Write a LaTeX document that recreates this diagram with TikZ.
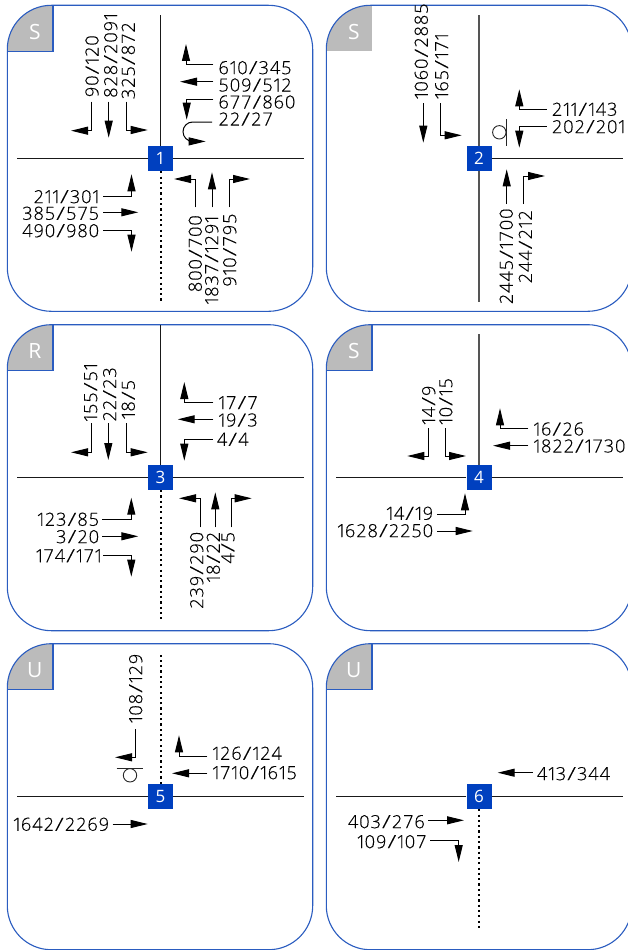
\documentclass[tikz,border=0pt]{standalone}
\usepackage{fontspec}
\usetikzlibrary{arrows.meta}
\newfontfamily\lblfont[LetterSpace=5,Numbers=Proportional,FakeBold=0.25]{Open Sans Light}
\newfontfamily\headfont{Open Sans}
\definecolor{frameblue}{HTML}{2A5CC0}
\definecolor{cornergray}{HTML}{BBBBBB}
\definecolor{squareblue}{HTML}{0040BF}
\definecolor{roadgray}{HTML}{555555}
\newcommand{\sla}{\makebox[10.9pt][c]{\scalebox{1.4}[1]{/}}}
\def\fmtx#1/#2\relax{#1\sla{}#2}
\newcommand{\fmt}[1]{\fmtx#1\relax}
\tikzset{
  lbl/.style={font=\lblfont\fontsize{18.2pt}{18.2pt}\selectfont,inner ysep=0pt,text=black},
  flow/.style={line width=1pt,black,-{Triangle[length=17pt,width=8pt]}},
  road/.style={line width=1.1pt,black!90},
  graveroad/.style={line width=1.4pt,roadgray},
  dotroad/.style={line width=2pt,black,dash pattern=on 2.2pt off 3.1pt},
  sq/.style={fill=squareblue,text=white,minimum size=25pt,inner sep=0pt,font=\headfont\fontsize{17pt}{17pt}\selectfont},
  frame/.style={draw=frameblue,line width=1.1pt,rounded corners=44pt},
  heading/.style={text=white,inner sep=0pt,font=\headfont\fontsize{21pt}{21pt}\selectfont},
  stopmark/.style={line width=0.9pt,black!85},
}
% horizontal label: gap, id, anchor, x, y of text, y of line, text, end, path operation
\newcommand{\Lh}[9][4]{%
  \node[lbl,inner xsep=#1pt,anchor=#3] (#2) at (#4,#5) {\fmt{#7}};
  \coordinate (#2e) at (#8);
  \draw[flow] (#2.#3 |- 0,#6) #9 (#2e);}
% vertical label: gap, id, anchor, x of text, y, x of line, text, end, path operation
\newcommand{\Lv}[9][4]{%
  \node[lbl,inner xsep=#1pt,anchor=#3,rotate=90] (#2) at (#4,#5) {\fmt{#7}};
  \coordinate (#2e) at (#8);
  \draw[flow] (#6,0 |- #2.#3) #9 (#2e);}
% panel: id, x, y, letter, width of drawn corner edge
\newcommand{\panel}[5]{%
  \begin{scope}
    \clip[rounded corners=44pt] (#2,#3) rectangle ++(305.4,306);
    \fill[cornergray] (#2,#3) rectangle ++(45.7,46);
    \ifnum#5=1 \draw[frameblue,line width=1.1pt] (#2+45.7,#3) -- ++(0,46) -- ++(-45.7,0);\fi
  \end{scope}
  \draw[frame] (#2,#3) rectangle ++(305.4,306);
  \node[heading] (h#1) at (#2+27.5,#3+26.5) {#4};}
\begin{document}
\begin{tikzpicture}[x=1pt,y=-1pt]
\useasboundingbox (0,0) rectangle (628,950);
\fill[white] (0,0) rectangle (628,950);
\panel{1}{7.3}{5.3}{S}{1}
\panel{2}{326.3}{5.3}{S}{0}
\panel{3}{7.3}{324.7}{R}{1}
\panel{4}{326.3}{324.7}{S}{1}
\panel{5}{7.3}{643.7}{U}{1}
\panel{6}{326.3}{643.7}{U}{1}
\node[sq] (sq1) at (160.5,158.5) {1};
\node[sq] (sq2) at (479,158.5) {2};
\node[sq] (sq3) at (160.5,477.3) {3};
\node[sq] (sq4) at (479,477.3) {4};
\node[sq] (sq5) at (160.5,796.5) {5};
\node[sq] (sq6) at (479,796.5) {6};
% roads
\coordinate (r1w) at (16.5,158.5); \coordinate (r1e) at (303.5,158.5);
\coordinate (r1n) at (160.5,15);   \coordinate (r1s) at (160.5,302);
\draw[road] (sq1.west) -- (r1w); \draw[road] (sq1.east) -- (r1e);
\draw[road] (sq1.north) -- (r1n); \draw[dotroad] (sq1.south) -- (r1s);
\coordinate (r2e) at (623,158.5); \coordinate (r2n) at (479,15); \coordinate (r2s) at (479,302);
\draw[road] (sq2.east) -- (r2e);
\draw[graveroad] (sq2.north) -- (r2n); \draw[graveroad] (sq2.south) -- (r2s);
\coordinate (r3w) at (16.5,477.3); \coordinate (r3e) at (303.5,477.3);
\coordinate (r3n) at (160.5,325);  \coordinate (r3s) at (160.5,620);
\draw[road] (sq3.west) -- (r3w); \draw[road] (sq3.east) -- (r3e);
\draw[road] (sq3.north) -- (r3n); \draw[dotroad] (sq3.south) -- (r3s);
\coordinate (r4w) at (335.5,477.3); \coordinate (r4e) at (623,477.3); \coordinate (r4n) at (479,334);
\draw[road] (sq4.west) -- (r4w); \draw[road] (sq4.east) -- (r4e);
\draw[graveroad] (sq4.north) -- (r4n);
\coordinate (r5w) at (16.5,796.5); \coordinate (r5e) at (303.5,796.5); \coordinate (r5n) at (160.5,655);
\draw[road] (sq5.west) -- (r5w); \draw[road] (sq5.east) -- (r5e);
\draw[dotroad] (sq5.north) -- (r5n);
\coordinate (r6w) at (335.5,796.5); \coordinate (r6e) at (623,796.5); \coordinate (r6s) at (479,928);
\draw[road] (sq6.west) -- (r6w); \draw[road] (sq6.east) -- (r6e);
\draw[dotroad] (sq6.south) -- (r6s);
% stop marks
\draw[stopmark] (506,119) -- (506,145.7);
\draw[stopmark] (499.3,132.3) circle[radius=6.7pt];
\draw[stopmark] (116.7,768.7) -- (143.3,768.7);
\draw[stopmark] (130,775.3) circle[radius=6.7pt];
% panel 1
\Lv[4.4]{p1a}{west}{92}{101.7}{91.7}{90/120}{71,130.7}{|-}
\Lv[3.7]{p1b}{west}{110.7}{101.7}{108.7}{828/2091}{108.7,137.7}{--}
\Lv[2.4]{p1c}{west}{128.3}{101.7}{126.3}{325/872}{147.7,130}{|-}
\Lh[5]{p1d}{west}{213.3}{67.7}{65}{610/345}{186,44}{-|}
\Lh[5]{p1e}{west}{213.3}{85}{81.7}{509/512}{180,81.7}{--}
\Lh[5]{p1f}{west}{213.3}{102}{99.3}{677/860}{186.7,119.7}{-|}
\Lh[6.3]{p1g}{west}{212}{119}{122}{22/27}{205.7,141.4}{-- (192.7,122) arc[start angle=90,end angle=270,radius=9.7pt] --}
\Lh[4]{p1h}{east}{103.3}{196.7}{196}{211/301}{131.5,174.3}{-|}
\Lh[4]{p1i}{east}{103.3}{213.3}{212.3}{385/575}{138.3,212.3}{--}
\Lh[4]{p1j}{east}{103.3}{230.7}{230}{490/980}{131.5,251.7}{-|}
\Lv[7.7]{p1k}{east}{195.3}{207.3}{195}{800/700}{174,179}{|-}
\Lv[8.7]{p1l}{east}{211.7}{207.3}{212}{1837/1291}{212,172.3}{--}
\Lv[6]{p1m}{east}{229.7}{207.3}{229.3}{910/795}{250,179}{|-}
% panel 2
\Lv[4]{p2a}{west}{421.3}{103.3}{423.3}{1060/2885}{423.3,142.7}{--}
\Lv[4]{p2b}{west}{441.7}{103.3}{440.3}{165/171}{461.7,135.3}{|-}
\Lh[5]{p2c}{west}{546.7}{109.3}{109.3}{211/143}{519.3,89.3}{-|}
\Lh[5]{p2d}{west}{546.7}{126.7}{126.7}{202/201}{519.3,147.7}{-|}
\Lv[4.3]{p2e}{east}{506.3}{204}{506.7}{2445/1700}{506.7,169.3}{--}
\Lv[6]{p2f}{east}{525.3}{204}{523.7}{244/212}{545,176}{|-}
% panel 3
\Lv[1.6]{p3a}{west}{90.7}{423.3}{91.7}{155/51}{71,452.3}{|-}
\Lv[1.6]{p3b}{west}{109.7}{423.3}{108.3}{22/23}{108.3,460}{--}
\Lv[4]{p3c}{west}{128.3}{423.3}{126.3}{18/5}{147.7,452.3}{|-}
\Lh[5]{p3d}{west}{213.3}{402.7}{402.3}{17/7}{184.3,382}{-|}
\Lh[5]{p3e}{west}{213.3}{420}{419.3}{19/3}{177.7,419.3}{--}
\Lh[4]{p3f}{west}{212.7}{439.3}{439.3}{4/4}{184.3,460.7}{-|}
\Lh[3]{p3g}{east}{102.3}{519.3}{519}{123/85}{131.3,497.7}{-|}
\Lh[3]{p3h}{east}{102.3}{536.7}{536.3}{3/20}{138.3,536.3}{--}
\Lh[1.6]{p3i}{east}{103.3}{555.7}{555.7}{174/171}{131.3,576.7}{-|}
\Lv[4.4]{p3j}{east}{196.7}{527.3}{200}{239/290}{179,498.3}{|-}
\Lv[4.4]{p3k}{east}{213.3}{527.3}{215.3}{18/22}{215.3,492.3}{--}
\Lv[4.4]{p3l}{east}{228}{527.3}{231.3}{4/5}{251.7,498.3}{|-}
% panel 4
\Lv[3.3]{p4a}{west}{428.7}{428.3}{428.3}{14/9}{407.3,456}{|-}
\Lv[3.3]{p4b}{west}{445.8}{428.3}{445.7}{10/15}{466,456}{|-}
\Lh[5]{p4c}{west}{528.3}{429}{428.7}{16/26}{500,408.3}{-|}
\Lh[5]{p4d}{west}{528.3}{446}{445.7}{1822/1730}{493,445.7}{--}
\Lh[4]{p4e}{east}{437.3}{513.3}{514}{14/19}{465,493.3}{-|}
\Lh[4]{p4f}{east}{437.3}{530.7}{531}{1628/2250}{472.7,531}{--}
% panel 5
\Lv[6]{p5a}{west}{135.7}{729.3}{135.7}{108/129}{115,757.3}{|-}
\Lh[5]{p5b}{west}{207.3}{753.3}{756}{126/124}{179,735.3}{-|}
\Lh[5]{p5c}{west}{207.3}{772.7}{773.3}{1710/1615}{172,773.3}{--}
\Lh[3.4]{p5d}{east}{112.7}{824.3}{824}{1642/2269}{147.7,824}{--}
% panel 6
\Lh[4]{p6a}{west}{532.7}{773.7}{772.7}{413/344}{497.7,772.7}{--}
\Lh[3.3]{p6b}{east}{428.3}{821.7}{820.3}{403/276}{464,820.3}{--}
\Lh[3.3]{p6c}{east}{430}{841.7}{840.3}{109/107}{458.7,862}{-|}
\end{tikzpicture}
\end{document}
